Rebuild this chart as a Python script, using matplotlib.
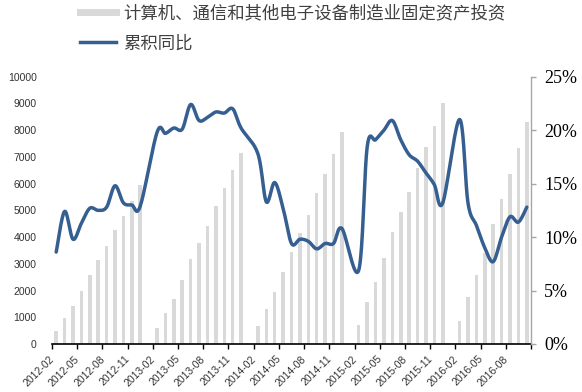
import numpy as np
import matplotlib
matplotlib.use('Agg')
import matplotlib.pyplot as plt
from matplotlib.lines import Line2D
from matplotlib.ticker import FuncFormatter

# months 2012-02 .. 2016-10 (January has no data: Jan-Feb reported together)
months = []
for yr in range(2012, 2017):
    for mo in range(1, 13):
        if (yr == 2012 and mo < 2) or (yr == 2016 and mo > 10):
            continue
        months.append('%d-%02d' % (yr, mo))

# cumulative investment (bars, left axis), Feb..Dec per year
invest_2012 = [486, 985, 1421, 1983, 2581, 3130, 3653, 4264, 4800, 5337, 5948]
invest_2013 = [586, 1172, 1696, 2382, 3180, 3791, 4414, 5175, 5835, 6521, 7157]
invest_2014 = [673, 1322, 1958, 2681, 3454, 4140, 4838, 5636, 6359, 7120, 7943]
invest_2015 = [711, 1559, 2332, 3204, 4177, 4925, 5673, 6596, 7357, 8155, 9027]
invest_2016 = [860, 1771, 2581, 3420, 4489, 5411, 6359, 7344, 8304]

# cumulative yoy growth, % (line, right axis)
yoy_2012 = [8.6, 12.4, 9.8, 11.3, 12.7, 12.5, 12.8, 14.8, 13.2, 13.0, 12.9]
yoy_2013 = [19.8, 19.7, 20.2, 20.1, 22.4, 20.9, 21.2, 21.7, 21.6, 22.0, 20.2]
yoy_2014 = [17.8, 13.3, 15.1, 12.7, 9.4, 9.8, 9.6, 8.9, 9.4, 9.4, 10.8]
yoy_2015 = [6.9, 18.4, 19.1, 20.0, 20.9, 19.1, 17.7, 17.1, 16.0, 14.9, 13.2]
yoy_2016 = [21.0, 13.2, 11.1, 9.0, 7.7, 10.0, 11.9, 11.4, 12.8]

bar_label = '计算机、通信和其他电子设备制造业固定资产投资'
line_label = '累积同比'


def fill_months(series_by_year):
    """ Spread the Feb..Dec values over the month list, NaN for January. """
    out = []
    it = iter([v for s in series_by_year for v in s])
    for m in months:
        out.append(np.nan if m.endswith('-01') else next(it))
    return np.array(out, dtype=float)


def smooth(x, y, n=20):
    """ Excel style smoothed line (bezier with 1/6 tangents). """
    px, py = [], []
    k = len(x)
    for i in range(k - 1):
        x0, y0 = (x[i - 1], y[i - 1]) if i > 0 else (x[i], y[i])
        x3, y3 = (x[i + 2], y[i + 2]) if i + 2 < k else (x[i + 1], y[i + 1])
        c1x = x[i] + (x[i + 1] - x0) / 6.
        c1y = y[i] + (y[i + 1] - y0) / 6.
        c2x = x[i + 1] - (x3 - x[i]) / 6.
        c2y = y[i + 1] - (y3 - y[i]) / 6.
        t = np.linspace(0, 1, n)
        px.extend((1 - t) ** 3 * x[i] + 3 * (1 - t) ** 2 * t * c1x
                  + 3 * (1 - t) * t ** 2 * c2x + t ** 3 * x[i + 1])
        py.extend((1 - t) ** 3 * y[i] + 3 * (1 - t) ** 2 * t * c1y
                  + 3 * (1 - t) * t ** 2 * c2y + t ** 3 * y[i + 1])
    return np.array(px), np.array(py)


invest = fill_months([invest_2012, invest_2013, invest_2014, invest_2015, invest_2016])
yoy = fill_months([yoy_2012, yoy_2013, yoy_2014, yoy_2015, yoy_2016])

bar_color = '#d9d9d9'
line_color = '#365f91'
cjk = ['Noto Sans CJK SC', 'DejaVu Sans']

fig = plt.figure(figsize=(5.82, 3.92), dpi=100)
ax = fig.add_axes([52 / 582., 1 - 344 / 392., 479 / 582., 267.3 / 392.])
ax2 = ax.twinx()

ind = np.arange(len(months))
ax.bar(ind, invest, 0.42, color=bar_color)
ax.set_ylim(0, 10000)
ax.set_yticks(np.arange(0, 10001, 1000))
ax.set_xlim(-0.5, len(months) - 0.5)

ok = ~np.isnan(yoy)
sx, sy = smooth(ind[ok], yoy[ok])
ax2.plot(sx, sy, color=line_color, lw=2.5, solid_capstyle='round')
ax2.set_ylim(0, 25)
ax2.set_yticks(np.arange(0, 26, 5))
ax2.yaxis.set_major_formatter(FuncFormatter(lambda v, p: '%d%%' % v))

# x ticks: labels every 3 months, marks between categories
ax.set_xticks(ind[::3])
ax.set_xticklabels(months[::3], rotation=45, ha='right',
                   fontsize=7.5, family='Liberation Sans', color='#333333')
ax.set_xticks(np.arange(-0.5, len(months), 3), minor=True)
ax.tick_params(axis='x', which='major', length=0, pad=7)
ax.tick_params(axis='x', which='minor', length=3.5, width=1, direction='out',
               color='black')

ax.tick_params(axis='y', length=0, pad=11, labelsize=7.5, labelcolor='#333333')
for lab in ax.get_yticklabels():
    lab.set_family('Liberation Sans')

ax2.tick_params(axis='y', length=3.5, width=1, color='#a6a6a6', pad=6,
                labelsize=13)
for lab in ax2.get_yticklabels():
    lab.set_family('Liberation Serif')

for a in (ax, ax2):
    for s in ('top', 'left'):
        a.spines[s].set_visible(False)
ax.spines['right'].set_visible(False)
ax2.spines['bottom'].set_visible(False)
ax.spines['bottom'].set_color('black')
ax.spines['bottom'].set_linewidth(1.2)
ax2.spines['right'].set_color('#a6a6a6')
ax2.spines['right'].set_linewidth(1)

handles = [Line2D([], [], color=bar_color, lw=5),
           Line2D([], [], color=line_color, lw=2.5)]
fig.legend(handles, [bar_label, line_label], loc='upper left',
           bbox_to_anchor=(80 / 582., 1 - 4 / 392.), frameon=False,
           prop={'family': cjk, 'size': 12.5}, labelcolor='#404040',
           handlelength=2.1, handletextpad=0.4, labelspacing=0.7,
           borderpad=0, borderaxespad=0)

fig.savefig('out.png', dpi=100)
